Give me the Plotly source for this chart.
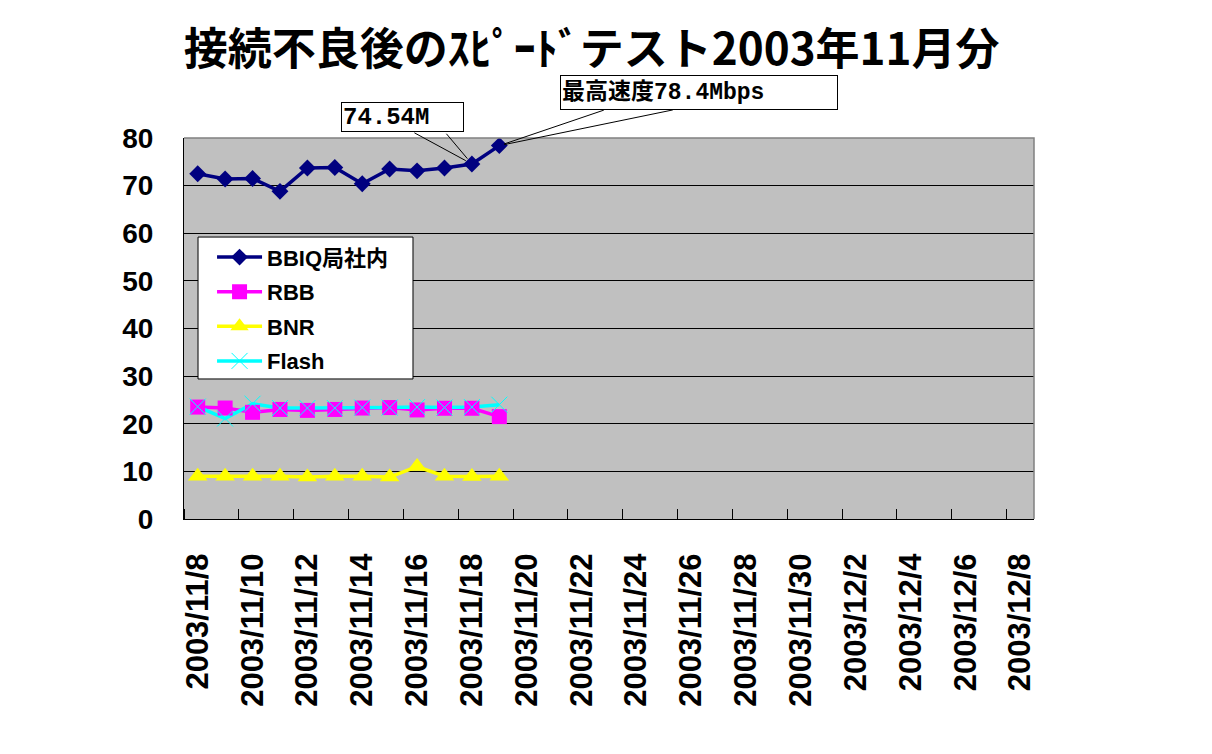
import plotly.graph_objects as go
import pandas as pd

# ---- data ----
dates = ["2003-11-08", "2003-11-09", "2003-11-10", "2003-11-11", "2003-11-12", "2003-11-13",
         "2003-11-14", "2003-11-15", "2003-11-16", "2003-11-17", "2003-11-18", "2003-11-19"]
bbiq = [72.5, 71.4, 71.5, 68.8, 73.7, 73.8, 70.4, 73.5, 73.1, 73.7, 74.54, 78.4]
rbb = [23.5, 23.3, 22.4, 23.0, 22.8, 23.0, 23.3, 23.4, 22.9, 23.25, 23.25, 21.5]
bnr = [9.0, 9.0, 9.0, 9.0, 8.8, 9.0, 9.0, 8.8, 11.0, 9.0, 8.9, 9.0]
flash = [23.6, 21.1, 24.2, 23.3, 23.3, 23.3, 23.4, 23.4, 23.5, 23.4, 23.5, 24.0]

tick_dates = ["2003-11-08", "2003-11-10", "2003-11-12", "2003-11-14", "2003-11-16", "2003-11-18",
              "2003-11-20", "2003-11-22", "2003-11-24", "2003-11-26", "2003-11-28", "2003-11-30",
              "2003-12-02", "2003-12-04", "2003-12-06", "2003-12-08"]
tick_text = ["2003/11/8", "2003/11/10", "2003/11/12", "2003/11/14", "2003/11/16", "2003/11/18",
             "2003/11/20", "2003/11/22", "2003/11/24", "2003/11/26", "2003/11/28", "2003/11/30",
             "2003/12/2", "2003/12/4", "2003/12/6", "2003/12/8"]

title_text = "接続不良後のｽﾋﾟｰﾄﾞテスト2003年11月分"
note_1 = "74.54M"
note_2 = "最高速度78.4Mbps"

FONT = "Liberation Sans, Arial, Noto Sans CJK JP, sans-serif"
CJK = "Noto Sans CJK JP, sans-serif"
MONO = "Liberation Mono, DejaVu Sans Mono, Noto Sans CJK JP, monospace"

series = [
    ("BBIQ局社内", bbiq, "#000080", "diamond", 13),
    ("RBB", rbb, "#FF00FF", "square", 15),
    ("BNR", bnr, "#FFFF00", "triangle-up", 17),
    ("Flash", flash, "#00FFFF", "x-thin-open", 16),
]

fig = go.Figure()

# lines first (all lines below all markers)
for name, vals, color, sym, size in series:
    fig.add_trace(go.Scatter(x=dates, y=vals, mode="lines",
                             line=dict(color=color, width=3.5),
                             showlegend=False, hoverinfo="skip"))
# markers
for name, vals, color, sym, size in series:
    mk = dict(symbol=sym, size=size, color=color, line=dict(width=0))
    if sym == "x-thin-open":
        mk["line"] = dict(color=color, width=1)
    fig.add_trace(go.Scatter(x=dates, y=vals, mode="markers", marker=mk,
                             name=name, showlegend=False))
# legend entries
for name, vals, color, sym, size in series:
    mk = dict(symbol=sym, size=size, color=color, line=dict(width=0))
    if sym == "x-thin-open":
        mk["line"] = dict(color=color, width=1)
    fig.add_trace(go.Scatter(x=[None], y=[None], mode="lines+markers", name=name,
                             legendgroup=name, marker=mk,
                             line=dict(color=color, width=3.5)))

boundaries = pd.date_range("2003-11-07 12:00", periods=16, freq="2D")

fig.update_xaxes(
    type="date",
    range=["2003-11-07 12:00", "2003-12-08 12:00"],
    tickmode="array", tickvals=tick_dates, ticktext=tick_text,
    tickangle=-90, ticks="", showgrid=False,
    showline=True, linecolor="black", linewidth=1,
    tickfont=dict(family=FONT, size=31, color="black", weight="bold"),
    ticklabelstandoff=21,
    minor=dict(tickmode="array", tickvals=list(boundaries), ticks="inside",
               ticklen=10, tickwidth=1, tickcolor="black", showgrid=False),
)
fig.update_yaxes(
    range=[0, 80], dtick=10, tick0=0,
    showgrid=True, gridcolor="black", gridwidth=1, zeroline=False,
    showline=True, linecolor="black", linewidth=1, ticks="",
    tickfont=dict(family=FONT, size=28, color="black", weight="bold"),
    ticklabelstandoff=24,
)

# gray top/right border of the plot area
fig.add_shape(type="path", path="M 0,1 L 1,1 L 1,0", xref="paper", yref="paper",
              line=dict(color="#808080", width=1.5), layer="above")
# legend frame
fig.add_shape(type="rect", xref="paper", yref="paper",
              x0=0.0165, x1=0.2694, y0=0.3675, y1=0.740,
              fillcolor="white", line=dict(color="black", width=1), layer="above")

# callout 1 -> 11/18 point
i1 = bbiq.index(74.54)
for axo in (-59, -27):
    fig.add_annotation(x=dates[i1], y=bbiq[i1], text=" ", font=dict(size=1),
                       showarrow=True, arrowhead=0, arrowwidth=1, arrowcolor="black",
                       ax=axo, ay=-32, standoff=7)
fig.add_annotation(x=dates[i1], y=bbiq[i1], text=note_1, showarrow=False,
                   xshift=-69, yshift=47, width=119, height=26, align="left",
                   bgcolor="white", bordercolor="black", borderwidth=1, borderpad=1,
                   font=dict(family=MONO, size=24, color="black", weight="bold"))

# callout 2 -> 11/19 point
i2 = bbiq.index(78.4)
for axo in (106, 175):
    fig.add_annotation(x=dates[i2], y=bbiq[i2], text=" ", font=dict(size=1),
                       showarrow=True, arrowhead=0, arrowwidth=1, arrowcolor="black",
                       ax=axo, ay=-36, standoff=5)
fig.add_annotation(x=dates[i2], y=bbiq[i2], text=note_2, showarrow=False,
                   xshift=200, yshift=53, width=274, height=31, align="left",
                   bgcolor="white", bordercolor="black", borderwidth=1, borderpad=1,
                   font=dict(family=MONO, size=23, color="black", weight="bold"))

# page body has an 8px margin: figure is sized/positioned to compensate
fig.update_layout(
    width=1196, height=738, autosize=False,
    margin=dict(l=176, r=170, t=130, b=227),
    paper_bgcolor="white", plot_bgcolor="#C0C0C0",
    title=dict(text=title_text, x=0.488, xanchor="center", y=0.944, yanchor="middle",
               font=dict(family=CJK, size=44, color="black", weight="bold")),
    legend=dict(x=0.033, y=0.742, xanchor="left", yanchor="top",
                bgcolor="rgba(0,0,0,0)", borderwidth=0,
                font=dict(family=FONT, size=22, color="black", weight="bold"),
                itemwidth=45, tracegroupgap=3, traceorder="grouped"),
    showlegend=True,
    hovermode=False,
)

fig.write_html("out.html")
